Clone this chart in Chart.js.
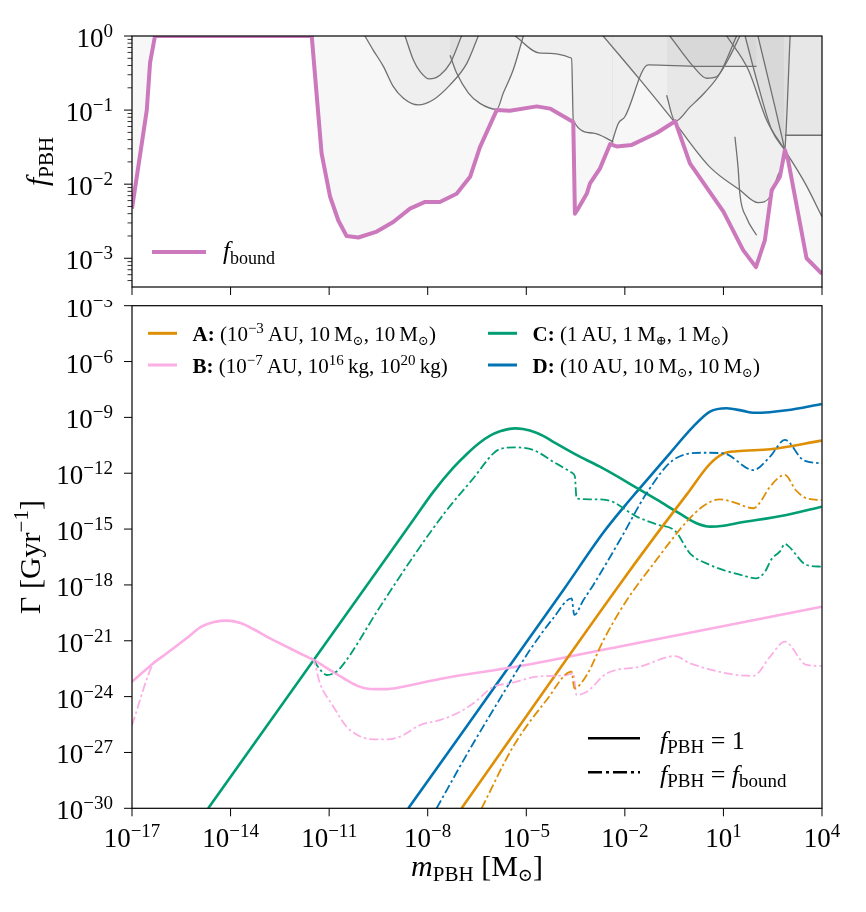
<!DOCTYPE html>
<html>
<head>
<meta charset="utf-8">
<script src="https://cdn.jsdelivr.net/npm/chart.js@4.4.1/dist/chart.umd.min.js"></script>
<style>
  html, body { margin: 0; padding: 0; background: #fff; }
  #wrap { position: relative; width: 866px; height: 912px; }
  canvas { position: absolute; left: 0; }
  #topChart { top: 0; }
  #bottomChart { top: 300px; }
</style>
</head>
<body>
<div id="wrap">
  <canvas id="topChart" width="866" height="300"></canvas>
  <canvas id="bottomChart" width="866" height="612"></canvas>
</div>
<script>
// all values are log10 of the plotted quantity
const xTickExps = [-17, -14, -11, -8, -5, -2, 1, 4];
const topYMajor = [0, -1, -2, -3];
const bottomYMajor = [-3, -6, -9, -12, -15, -18, -21, -24, -27, -30];

// upper panel: f_bound envelope
const fboundLogM = [-17, -16.55, -16.45, -16.3, -11.53, -11.23, -10.97, -10.72, -10.47, -10.11, -9.55, -9.05, -8.54, -8.08, -7.63, -7.12, -6.71, -6.41, -5.90, -5.50, -4.68, -4.28, -3.57, -3.52, -3.42, -3.16, -3.06, -2.76, -2.45, -2.25, -1.79, -1.03, -0.47, -0.02, 1.00, 1.60, 1.99, 2.26, 2.47, 2.72, 2.87, 2.97, 3.53, 4.00];
const fboundLogF = [-2.33, -1.00, -0.36, 0, 0, -1.585, -2.17, -2.49, -2.70, -2.72, -2.64, -2.51, -2.33, -2.24, -2.24, -2.13, -1.90, -1.50, -1.00, -1.01, -0.95, -0.98, -1.16, -2.40, -2.33, -2.13, -1.99, -1.79, -1.46, -1.49, -1.47, -1.31, -1.15, -1.72, -2.37, -2.89, -3.12, -2.76, -2.08, -1.90, -1.54, -1.68, -3.00, -3.21];

// upper panel: individual constraint curves (grey)
const c1LogM = [-9.91, -9.66, -9.35, -9.05, -8.74, -8.29, -7.83, -7.32, -6.81, -6.46];
const c1LogF = [0, -0.19, -0.41, -0.68, -0.84, -0.93, -0.86, -0.66, -0.37, 0];
const c2LogM = [-8.69, -8.44, -8.23, -7.95, -7.63, -7.32, -6.97];
const c2LogF = [0, -0.32, -0.48, -0.58, -0.53, -0.37, 0];
const c3LogM = [-7.32, -7.12, -6.76, -6.41, -5.90, -5.70, -5.40, -5.09];
const c3LogF = [-0.26, -0.50, -0.77, -0.91, -0.99, -0.77, -0.46, 0];
const c4LogM = [-5.34, -4.58, -3.62, -3.57, -2.96, -2.35];
const c4LogF = [0, -0.23, -0.30, -1.14, -1.31, -1.43];
const c5LogM = [-2.40, -2.20, -2.00, -1.29, 0.29, 2.01];
const c5LogF = [-1.45, -1.18, -1.09, -0.39, -0.41, -0.41];
const c6LogM = [-2.66, -1.54, -0.53, 0.59, 1.50, 2.06, 2.42, 2.66, 2.87, 3.03];
const c6LogF = [0, -0.59, -1.14, -1.77, -2.08, -2.25, -2.17, -1.88, -1.54, 0];
const c7LogM = [-0.63, -0.26, 0.08, 0.49, 0.79, 1.14, 1.50];
const c7LogF = [0, -0.22, -0.41, -0.57, -0.55, -0.32, 0];
const c8LogM = [-0.73, -0.47, -0.02, 0.44, 0.90, 1.40];
const c8LogF = [-0.80, -1.15, -0.96, -0.76, -0.50, 0];
const c9LogM = [1.10, 1.76, 2.32, 2.87];
const c9LogF = [0, -0.46, -1.14, -1.54];
const c10LogM = [1.66, 2.01, 2.47, 2.87];
const c10LogF = [0, -0.59, -1.27, -1.54];
const c11LogM = [2.05, 2.57, 2.87];
const c11LogF = [0, -0.96, -1.54];
const c12LogM = [2.87, 4.00];
const c12LogF = [-1.34, -1.34];
const c13LogM = [2.87, 3.50, 4.00];
const c13LogF = [-1.54, -2.00, -2.44];
const c14LogM = [1.35, 1.45, 1.50, 1.70, 2.01];
const c14LogF = [-1.36, -1.80, -2.13, -2.45, -2.69];

// lower panel: Gamma [1/Gyr], solid (f_PBH = 1) and dash-dot (f_PBH = f_bound)
const aSolidLogM = [-6.97, -2.25, -1.13, -0.12, 0.59, 1.00, 1.40, 2.42, 3.99];
const aSolidLogG = [-30, -18.2, -15.5, -13.15, -11.5, -10.95, -10.82, -10.71, -10.25];
const aBoundLogM = [-6.36, -5.40, -4.38, -3.62, -3.54, -3.16, -2.66, -2.15, -1.74, -1.08, -0.63, -0.12, 0.40, 0.89, 1.30, 1.91, 2.10, 2.42, 2.87, 3.20, 3.53, 3.99];
const aBoundLogG = [-30, -26.69, -24.18, -22.66, -23.55, -22.84, -21.0, -19.4, -18.3, -16.75, -15.7, -14.6, -13.75, -13.4, -13.55, -13.88, -13.6, -12.72, -12.09, -12.9, -13.35, -13.44];

const bSolidLogM = [-17, -16.35, -16.2, -16.0, -15.34, -14.9, -14.5, -14.12, -13.7, -13.3, -12.9, -12.2, -11.7, -11.48, -10.9, -10.47, -10.1, -9.76, -9.3, -8.84, -7.63, -5.19, -2.15, 3.99];
const bSolidLogG = [-23.20, -22.21, -22.0, -21.75, -20.87, -20.25, -19.99, -19.92, -20.05, -20.38, -20.78, -21.4, -21.84, -22.03, -22.65, -23.11, -23.45, -23.59, -23.6, -23.50, -23.05, -22.36, -21.31, -19.17];
const bBoundLogM = [-17, -16.35, -16.2, -16.0, -15.34, -14.9, -14.5, -14.12, -13.7, -13.3, -12.9, -12.2, -11.7, -11.48, -11.28, -10.87, -10.47, -10.1, -9.76, -9.3, -8.84, -8.23, -7.63, -7.22, -6.61, -6.00, -5.50, -4.68, -3.77, -3.57, -3.47, -3.16, -2.55, -1.54, -0.47, -0.02, 1.91, 2.42, 2.87, 3.53, 3.99];
const bBoundLogG = [-25.53, -22.21, -22.0, -21.75, -20.87, -20.25, -19.99, -19.92, -20.05, -20.38, -20.78, -21.4, -21.84, -22.03, -23.29, -24.54, -25.62, -26.1, -26.28, -26.3, -26.15, -25.53, -25.26, -24.99, -24.36, -23.47, -23.29, -22.93, -22.84, -22.75, -23.91, -23.74, -22.75, -22.39, -21.82, -22.21, -22.89, -21.85, -21.05, -22.30, -22.35];

const cSolidLogM = [-14.68, -9.45, -8.44, -7.83, -7.22, -6.80, -6.41, -6.10, -5.80, -5.55, -5.34, -5.10, -4.89, -4.50, -4.18, -3.37, -2.76, -1.64, -1.00, -0.30, 0.20, 0.60, 1.00, 1.40, 2.92, 3.99];
const cSolidLogG = [-30, -17.02, -14.51, -13.0, -11.7, -10.95, -10.35, -9.98, -9.75, -9.63, -9.59, -9.62, -9.71, -9.98, -10.31, -11.11, -11.65, -12.78, -13.45, -14.2, -14.7, -14.87, -14.82, -14.69, -14.24, -13.80];
const cBoundLogM = [-11.48, -11.25, -11.07, -10.87, -10.67, -9.45, -8.44, -7.42, -6.61, -6.00, -5.80, -5.34, -4.79, -4.18, -3.59, -3.52, -3.47, -3.06, -2.55, -1.64, -1.03, -0.47, -0.02, 0.59, 1.00, 1.60, 1.99, 2.26, 2.47, 2.72, 2.87, 2.97, 3.53, 3.99];
const cBoundLogG = [-22.03, -22.6, -22.84, -22.75, -22.48, -19.17, -16.48, -13.98, -12.27, -10.93, -10.70, -10.61, -10.75, -11.38, -12.0, -12.19, -13.35, -13.40, -13.44, -14.33, -14.75, -15.1, -16.30, -16.93, -17.2, -17.5, -17.65, -17.3, -16.6, -16.2, -15.8, -15.9, -16.93, -17.02];

const dSolidLogM = [-8.59, -3.87, -2.66, -2.00, -1.64, -0.63, 0.08, 0.59, 1.10, 1.60, 1.91, 2.40, 2.92, 3.99];
const dSolidLogG = [-30, -18.27, -15.2, -13.75, -13.0, -10.93, -9.50, -8.69, -8.51, -8.65, -8.75, -8.72, -8.62, -8.28];
const dBoundLogM = [-7.73, -6.71, -5.70, -4.89, -4.18, -3.62, -3.54, -3.26, -2.96, -2.15, -1.34, -0.53, 0.39, 1.00, 1.91, 2.42, 2.87, 3.43, 3.99];
const dBoundLogG = [-30, -26.8, -23.82, -21.50, -19.79, -18.72, -19.61, -18.81, -18.0, -15.59, -13.08, -11.29, -10.90, -10.93, -11.83, -11.11, -10.21, -11.29, -11.47];

const colA = '#DE8F05', colB = '#FBAFE4', colC = '#029E73', colD = '#0173B2';
const colBound = '#CC78BC';
const greyLine = '#707070';
const DASHDOT = [9, 3, 2.5, 3];

const SERIF = '"Liberation Serif", "DejaVu Serif", serif';
const fnt = (size, style) => (style ? style + ' ' : '') + size + 'px ' + SERIF;

const pts = (ms, vs) => ms.map((m, i) => ({ x: Math.pow(10, m), y: Math.pow(10, vs[i]) }));

function drawRich(ctx, parts, x, y, align) {
    let w = 0;
    parts.forEach(p => { ctx.font = p[1]; w += ctx.measureText(p[0]).width; });
    let cx = align === 'right' ? x - w : align === 'center' ? x - w / 2 : x;
    ctx.textAlign = 'left';
    ctx.textBaseline = 'alphabetic';
    parts.forEach(p => {
        ctx.font = p[1];
        ctx.fillText(p[0], cx, y + (p[2] || 0));
        cx += ctx.measureText(p[0]).width;
    });
}

function powLabel(n) {
    const e = n < 0 ? '\u2212' + (-n) : String(n);
    return [['10', fnt(27)], [e, fnt(19), -10]];
}

function seg(ctx, x1, y1, x2, y2) {
    ctx.beginPath();
    ctx.moveTo(x1, y1);
    ctx.lineTo(x2, y2);
    ctx.stroke();
}

function frame(ctx, a) {
    ctx.strokeStyle = '#000';
    ctx.lineWidth = 1.2;
    ctx.strokeRect(a.left, a.top, a.right - a.left, a.bottom - a.top);
    ctx.lineWidth = 1;
}

function constraint(ms, fs, filled) {
    return {
        data: pts(ms, fs),
        borderColor: greyLine,
        borderWidth: 1.3,
        backgroundColor: 'rgba(0,0,0,0.035)',
        fill: filled ? 'end' : false,
        cubicInterpolationMode: 'monotone',
        order: 10
    };
}

function gammaLine(ms, gs, color, dashed) {
    return {
        data: pts(ms, gs),
        borderColor: color,
        borderWidth: dashed ? 1.8 : 2.6,
        borderDash: dashed ? DASHDOT : [],
        fill: false,
        cubicInterpolationMode: 'monotone',
        order: dashed ? 1 : 2
    };
}

// ---------- top panel ----------
const topAxes = {
    id: 'topAxes',
    afterDraw(chart) {
        const ctx = chart.ctx, a = chart.chartArea;
        const xs = chart.scales.x, ys = chart.scales.y;
        ctx.save();
        ctx.fillStyle = '#000';
        frame(ctx, a);
        xTickExps.forEach(n => {
            const px = xs.getPixelForValue(Math.pow(10, n));
            seg(ctx, px, a.bottom, px, a.bottom + 8);
        });
        topYMajor.forEach(n => {
            const py = ys.getPixelForValue(Math.pow(10, n));
            seg(ctx, a.left, py, a.left - 8, py);
            drawRich(ctx, powLabel(n), a.left - 19, py + 11, 'right');
        });
        ctx.lineWidth = 0.8;
        for (let n = -4; n < 0; n++) {
            for (let k = 2; k <= 9; k++) {
                const v = k * Math.pow(10, n);
                if (v < ys.min || v > ys.max) continue;
                const py = ys.getPixelForValue(v);
                seg(ctx, a.left, py, a.left - 4.5, py);
            }
        }
        // y label
        ctx.save();
        ctx.translate(47, (a.top + a.bottom) / 2);
        ctx.rotate(-Math.PI / 2);
        drawRich(ctx, [['f', fnt(30, 'italic')], ['PBH', fnt(21), 6]], 0, 0, 'center');
        ctx.restore();
        // legend
        ctx.strokeStyle = colBound;
        ctx.lineWidth = 4;
        seg(ctx, 152, 252, 206, 252);
        drawRich(ctx, [['f', fnt(25, 'italic')], ['bound', fnt(18), 5]], 223, 259, 'left');
        ctx.restore();
    }
};

new Chart(document.getElementById('topChart'), {
    type: 'line',
    data: {
        datasets: [
            {
                data: pts(fboundLogM, fboundLogF),
                borderColor: colBound,
                borderWidth: 4,
                backgroundColor: 'rgba(0,0,0,0.03)',
                fill: 'end',
                tension: 0,
                borderJoinStyle: 'round',
                order: 0
            },
            constraint(c1LogM, c1LogF, true),
            constraint(c2LogM, c2LogF, true),
            constraint(c3LogM, c3LogF, true),
            constraint(c4LogM, c4LogF, true),
            constraint(c5LogM, c5LogF, true),
            constraint(c6LogM, c6LogF, true),
            constraint(c7LogM, c7LogF, true),
            constraint(c8LogM, c8LogF, true),
            constraint(c9LogM, c9LogF, true),
            constraint(c10LogM, c10LogF, true),
            constraint(c11LogM, c11LogF, true),
            constraint(c12LogM, c12LogF, true),
            constraint(c13LogM, c13LogF, true),
            constraint(c14LogM, c14LogF, false)
        ]
    },
    options: {
        responsive: false,
        animation: false,
        devicePixelRatio: 1,
        layout: { padding: { left: 132, right: 44, top: 36, bottom: 13 } },
        scales: {
            x: { type: 'logarithmic', min: 1e-17, max: 1e4, display: false },
            y: { type: 'logarithmic', min: Math.pow(10, -3.388), max: 1, display: false }
        },
        elements: { point: { radius: 0 } },
        plugins: {
            legend: { display: false },
            tooltip: { enabled: false },
            filler: { drawTime: 'beforeDatasetsDraw' }
        }
    },
    plugins: [topAxes]
});

// ---------- bottom panel ----------
const legendEntries = [
    { color: colA, x: 148, y: 33.3, parts: [['A:', fnt(21, 'bold')], [' (10', fnt(21)], ['\u22123', fnt(15), -8], ['\u2009AU, 10\u2009M', fnt(21)], ['\u2299', fnt(13), 4], [', 10\u2009M', fnt(21)], ['\u2299', fnt(13), 4], [')', fnt(21)]] },
    { color: colB, x: 148, y: 65, parts: [['B:', fnt(21, 'bold')], [' (10', fnt(21)], ['\u22127', fnt(15), -8], ['\u2009AU, 10', fnt(21)], ['16', fnt(15), -8], ['\u2009kg, 10', fnt(21)], ['20', fnt(15), -8], ['\u2009kg)', fnt(21)]] },
    { color: colC, x: 488, y: 33.3, parts: [['C:', fnt(21, 'bold')], [' (1\u2009AU, 1\u2009M', fnt(21)], ['\u2295', fnt(13), 4], [', 1\u2009M', fnt(21)], ['\u2299', fnt(13), 4], [')', fnt(21)]] },
    { color: colD, x: 488, y: 65, parts: [['D:', fnt(21, 'bold')], [' (10\u2009AU, 10\u2009M', fnt(21)], ['\u2299', fnt(13), 4], [', 10\u2009M', fnt(21)], ['\u2299', fnt(13), 4], [')', fnt(21)]] }
];

const bottomAxes = {
    id: 'bottomAxes',
    afterDraw(chart) {
        const ctx = chart.ctx, a = chart.chartArea;
        const xs = chart.scales.x, ys = chart.scales.y;
        ctx.save();
        ctx.fillStyle = '#000';
        frame(ctx, a);
        xTickExps.forEach(n => {
            const px = xs.getPixelForValue(Math.pow(10, n));
            seg(ctx, px, a.bottom, px, a.bottom + 8);
            drawRich(ctx, powLabel(n), px, a.bottom + 38.5, 'center');
        });
        bottomYMajor.forEach(n => {
            const py = ys.getPixelForValue(Math.pow(10, n));
            seg(ctx, a.left, py, a.left - 8, py);
            drawRich(ctx, powLabel(n), a.left - 19, py + 11, 'right');
        });
        // axis labels
        drawRich(ctx, [['m', fnt(30, 'italic')], ['PBH', fnt(21), 5], [' [M', fnt(30)], ['\u2299', fnt(18), 5], [']', fnt(30)]],
            (a.left + a.right) / 2, 576, 'center');
        ctx.save();
        ctx.translate(40, (a.top + a.bottom) / 2);
        ctx.rotate(-Math.PI / 2);
        drawRich(ctx, [['\u0393 [Gyr', fnt(30)], ['\u22121', fnt(21), -12], [']', fnt(30)]], 0, 0, 'center');
        ctx.restore();
        // scenario legend
        legendEntries.forEach(e => {
            ctx.strokeStyle = e.color;
            ctx.lineWidth = 3;
            seg(ctx, e.x, e.y, e.x + 29, e.y);
            drawRich(ctx, e.parts, e.x + 44.5, e.y + 7.5, 'left');
        });
        // line style legend
        ctx.strokeStyle = '#000';
        ctx.lineWidth = 2.5;
        seg(ctx, 588, 438.3, 640, 438.3);
        ctx.setLineDash([14, 4, 3, 4]);
        seg(ctx, 588, 472.3, 640, 472.3);
        ctx.setLineDash([]);
        drawRich(ctx, [['f', fnt(26, 'italic')], ['PBH', fnt(19), 4], [' = 1', fnt(26)]], 660, 448.5, 'left');
        drawRich(ctx, [['f', fnt(26, 'italic')], ['PBH', fnt(19), 4], [' = ', fnt(26)], ['f', fnt(26, 'italic')], ['bound', fnt(19), 4]], 660, 482.5, 'left');
        ctx.restore();
    }
};

new Chart(document.getElementById('bottomChart'), {
    type: 'line',
    data: {
        datasets: [
            gammaLine(aSolidLogM, aSolidLogG, colA, false),
            gammaLine(bSolidLogM, bSolidLogG, colB, false),
            gammaLine(cSolidLogM, cSolidLogG, colC, false),
            gammaLine(dSolidLogM, dSolidLogG, colD, false),
            gammaLine(aBoundLogM, aBoundLogG, colA, true),
            gammaLine(bBoundLogM, bBoundLogG, colB, true),
            gammaLine(cBoundLogM, cBoundLogG, colC, true),
            gammaLine(dBoundLogM, dBoundLogG, colD, true)
        ]
    },
    options: {
        responsive: false,
        animation: false,
        devicePixelRatio: 1,
        layout: { padding: { left: 132, right: 44, top: 5.7, bottom: 103.7 } },
        scales: {
            x: { type: 'logarithmic', min: 1e-17, max: 1e4, display: false },
            y: { type: 'logarithmic', min: 1e-30, max: 1e-3, display: false }
        },
        elements: { point: { radius: 0 } },
        plugins: {
            legend: { display: false },
            tooltip: { enabled: false }
        }
    },
    plugins: [bottomAxes]
});
</script>
</body>
</html>
